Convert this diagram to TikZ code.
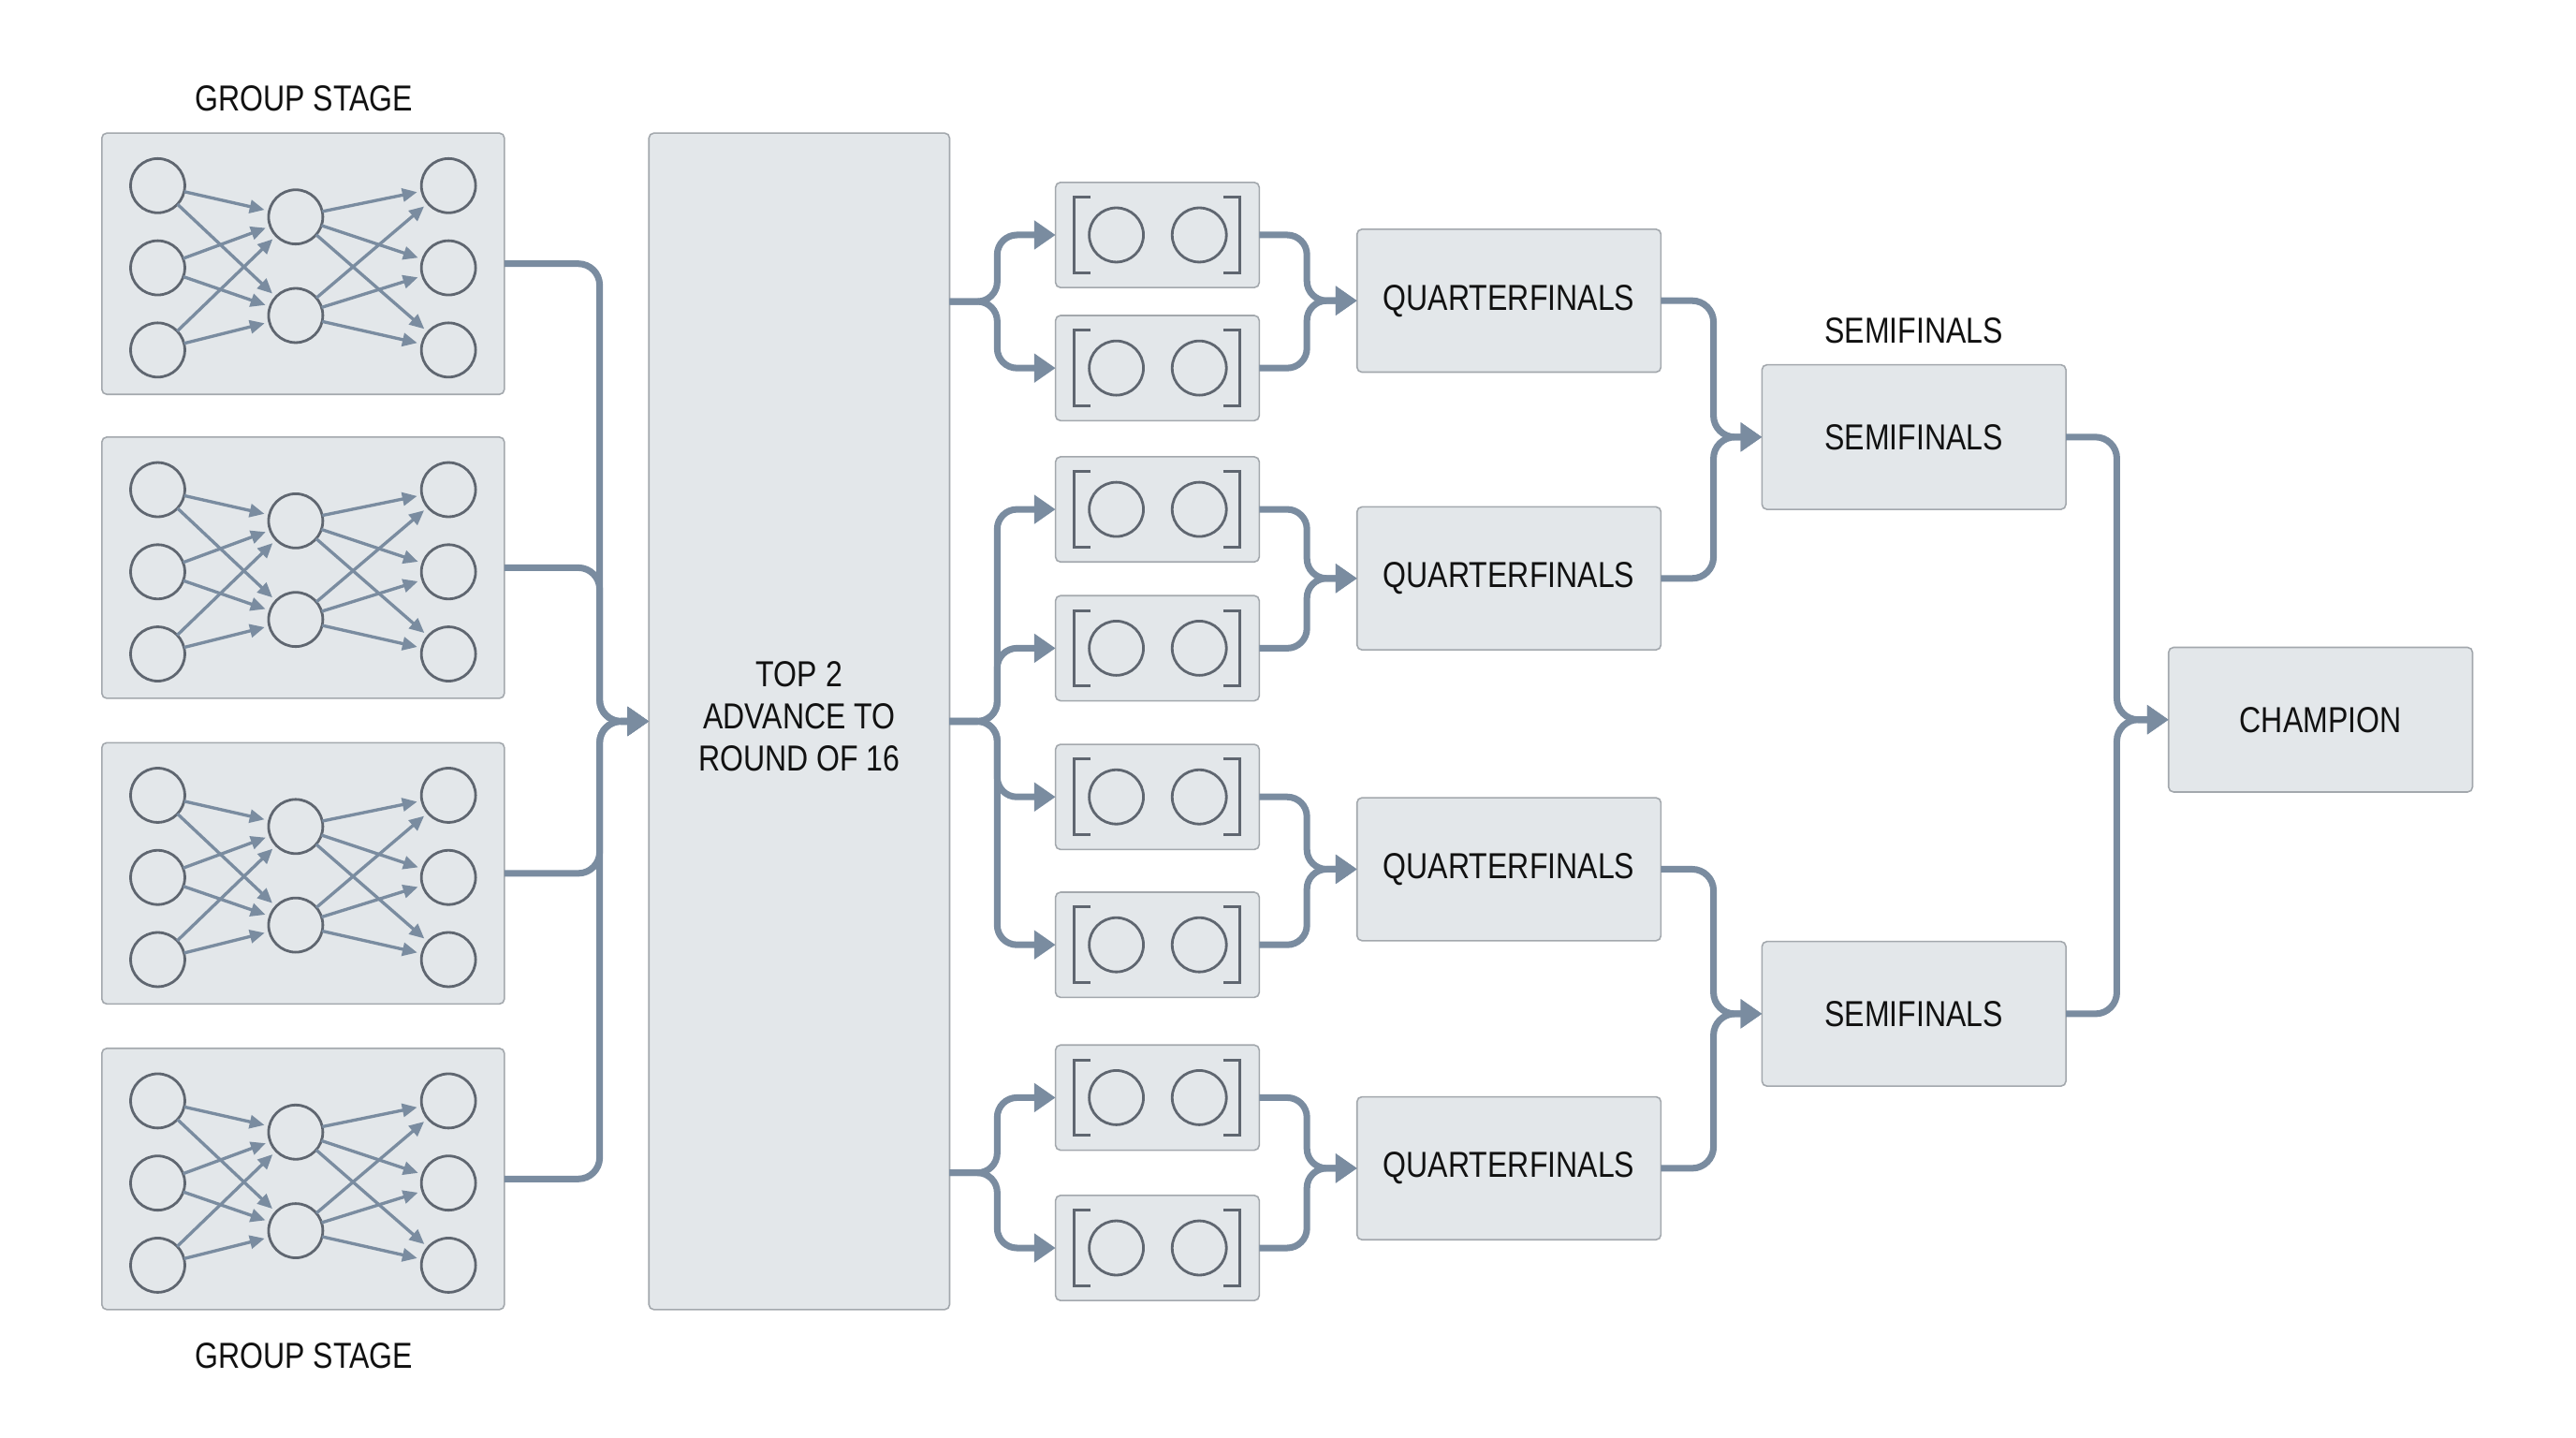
\documentclass[tikz,border=0pt]{standalone}
\usepackage{fontspec}
\setmainfont{Liberation Sans}[FakeStretch=0.83]
\usetikzlibrary{arrows.meta,calc}
\definecolor{clink}{HTML}{7A8CA0}
\definecolor{ccirc}{HTML}{5F6670}
\definecolor{cfill}{HTML}{E3E7EA}
\definecolor{cborder}{HTML}{A3A8AD}
\definecolor{ctext}{HTML}{111111}
\begin{document}
\begin{tikzpicture}[x=1pt,y=-1pt,
  box/.style={draw=cborder, fill=cfill, line width=0.9pt, rounded corners=3pt, inner sep=0pt, outer sep=0pt},
  lbl/.style={font=\fontsize{22}{25.5}\selectfont, text=ctext, align=center},
  dot/.style={circle, draw=ccirc, line width=1.6pt, minimum size=33pt, inner sep=0pt, outer sep=0pt},
  inarrow/.style={draw=clink, line width=1.9pt, -{Triangle[length=9pt,width=8pt]}, shorten >=3pt},
  brk/.style={draw=ccirc, line width=1.7pt},
  link/.style={draw=clink, line width=4pt, rounded corners=13pt, -{Triangle[length=13pt,width=17pt]}}
]
\fill[white] (0,0) rectangle (1568,875);
\useasboundingbox (0,0) rectangle (1568,875);

% titles
\node[lbl] (t1) at (185,60) {GROUP STAGE};
\node[lbl] (t2) at (185,825) {GROUP STAGE};
\node[lbl] (t3) at (1165,201) {SEMIFINALS};

% group boxes
\foreach \i/\t in {1/81,2/266,3/452,4/638} {
  \node[box, minimum width=245pt, minimum height=159pt] (g\i) at (184.5,\t+79.5) {};
  \foreach \j/\dy in {1/32,2/82,3/132} {
    \node[dot] (gl\i\j) at (96,\t+\dy) {};
    \node[dot] (gr\i\j) at (273,\t+\dy) {};
  }
  \foreach \j/\dy in {1/51,2/111} {
    \node[dot] (gm\i\j) at (180,\t+\dy) {};
  }
  \foreach \a in {1,2,3} {
    \foreach \b in {1,2} {
      \draw[inarrow] (gl\i\a) -- (gm\i\b);
      \draw[inarrow] (gm\i\b) -- (gr\i\a);
    }
  }
}

% big box
\node[box, minimum width=183pt, minimum height=716pt] (big) at (486.5,439) {};
\node[lbl] (bigtxt) at (486.5,436) {TOP 2\\ADVANCE TO\\ROUND OF 16};

% match boxes
\foreach \k/\y in {1/143,2/224,3/310,4/394.5,5/485,6/575,7/668,8/759.5} {
  \node[box, minimum width=124pt, minimum height=64pt] (m\k) at (704.5,\y) {};
  \node[dot] (ma\k) at (679.5,\y) {};
  \node[dot] (mb\k) at (730,\y) {};
  \draw[brk] ($(m\k.center)+(-40.5,-23)$) -- ++(-10,0) -- ++(0,46) -- ++(10,0);
  \draw[brk] ($(m\k.center)+(40,-23)$) -- ++(10,0) -- ++(0,46) -- ++(-10,0);
}

% quarterfinals
\foreach \q/\y in {1/183,2/352,3/529,4/711} {
  \node[box, minimum width=185pt, minimum height=87pt, lbl] (q\q) at (918.5,\y) {QUARTERFINALS};
}
% semifinals
\node[box, minimum width=185pt, minimum height=88pt, lbl] (s1) at (1165,266) {SEMIFINALS};
\node[box, minimum width=185pt, minimum height=88pt, lbl] (s2) at (1165,617) {SEMIFINALS};
% champion
\node[box, minimum width=185pt, minimum height=88pt, lbl] (ch) at (1412.5,438) {CHAMPION};

% group -> big
\foreach \i in {1,...,4} {
  \draw[link] (g\i.east) -- ++(58,0) |- (big.west);
}

% big -> matches
\coordinate (p1) at ($(m1.west)!0.5!(m2.west)$);
\coordinate (p4) at ($(m7.west)!0.5!(m8.west)$);
\draw[link, rounded corners=12pt] (big.east |- p1) -- ++(29,0) |- (m1.west);
\draw[link, rounded corners=12pt] (big.east |- p1) -- ++(29,0) |- (m2.west);
\foreach \k in {3,4,5,6} {
  \draw[link, rounded corners=12pt] (big.east) -- ++(29,0) |- (m\k.west);
}
\draw[link, rounded corners=12pt] (big.east |- p4) -- ++(29,0) |- (m7.west);
\draw[link, rounded corners=12pt] (big.east |- p4) -- ++(29,0) |- (m8.west);

% matches -> quarterfinals
\foreach \a/\b/\q in {1/2/1,3/4/2,5/6/3,7/8/4} {
  \draw[link, rounded corners=12pt] (m\a.east) -- ++(29,0) |- (q\q.west);
  \draw[link, rounded corners=12pt] (m\b.east) -- ++(29,0) |- (q\q.west);
}

% quarterfinals -> semifinals
\draw[link] (q1.east) -- ++(32,0) |- (s1.west);
\draw[link] (q2.east) -- ++(32,0) |- (s1.west);
\draw[link] (q3.east) -- ++(32,0) |- (s2.west);
\draw[link] (q4.east) -- ++(32,0) |- (s2.west);

% semifinals -> champion
\draw[link] (s1.east) -- ++(31,0) |- (ch.west);
\draw[link] (s2.east) -- ++(31,0) |- (ch.west);
\end{tikzpicture}
\end{document}
